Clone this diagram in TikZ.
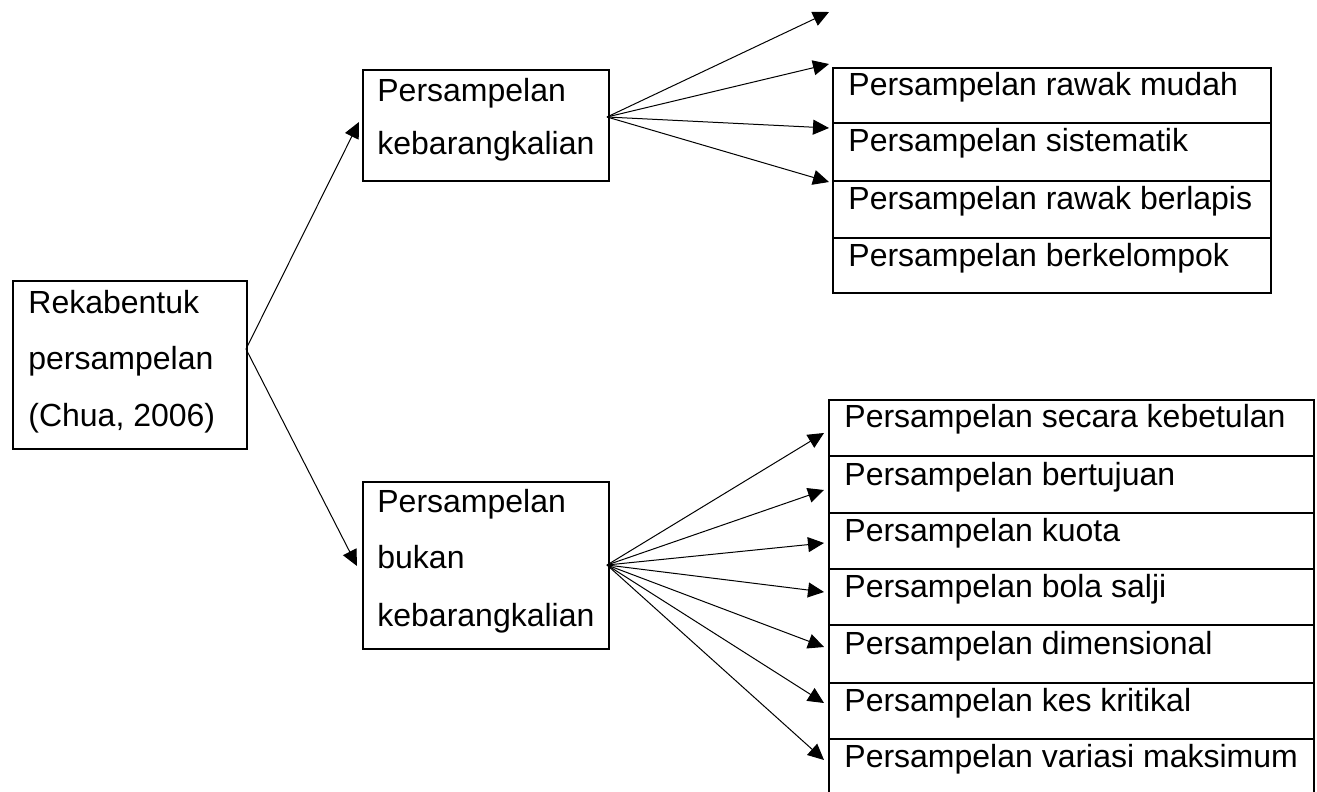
\documentclass[tikz,border=0pt]{standalone}
\usepackage{fontspec}
\setmainfont{Liberation Sans}
\usetikzlibrary{arrows.meta}
\begin{document}
\begin{tikzpicture}[x=0.5pt,y=-0.5pt,
  box/.style={draw=black,line width=1pt,inner sep=0pt,anchor=north west},
  txt/.style={anchor=base west,inner sep=0pt,font=\fontsize{16pt}{19pt}\selectfont},
  arr/.style={line width=0.5pt,-{Triangle[length=8pt,width=7.5pt]}}]
\useasboundingbox (0,0) rectangle (1317,792);
% left box
\node[box,minimum width=117pt,minimum height=84pt] (root) at (12,280) {};
\node[txt] (r1) at (28,313) {Rekabentuk};
\node[txt] (r2) at (28,369) {persampelan};
\node[txt] (r3) at (28,426) {(Chua, 2006)};
% top middle
\node[box,minimum width=123pt,minimum height=55.5pt] (pk) at (362,69) {};
\node[txt] (pk1) at (377,102) {Persampelan};
\node[txt] (pk2) at (377,155) {kebarangkalian};
% bottom middle
\node[box,minimum width=123pt,minimum height=83.5pt] (pb) at (362,481) {};
\node[txt] (pb1) at (377,512) {Persampelan};
\node[txt] (pb2) at (377,568) {bukan};
\node[txt] (pb3) at (377,626) {kebarangkalian};
% right top rows
\node[box,minimum width=219pt,minimum height=27.5pt] (a1) at (832,67) {};
\node[box,minimum width=219pt,minimum height=29pt] (a2) at (832,122) {};
\node[box,minimum width=219pt,minimum height=28.5pt] (a3) at (832,180) {};
\node[box,minimum width=219pt,minimum height=27.5pt] (a4) at (832,237) {};
\node[txt] (at1) at (848,96) {Persampelan rawak mudah};
\node[txt] (at2) at (848,152) {Persampelan sistematik};
\node[txt] (at3) at (848,209) {Persampelan rawak berlapis};
\node[txt] (at4) at (848,266) {Persampelan berkelompok};
% right bottom rows
\node[box,minimum width=242.5pt,minimum height=28pt] (b1) at (828,399) {};
\node[box,minimum width=242.5pt,minimum height=28.5pt] (b2) at (828,455) {};
\node[box,minimum width=242.5pt,minimum height=28pt] (b3) at (828,512) {};
\node[box,minimum width=242.5pt,minimum height=28pt] (b4) at (828,568) {};
\node[box,minimum width=242.5pt,minimum height=29pt] (b5) at (828,624) {};
\node[box,minimum width=242.5pt,minimum height=28pt] (b6) at (828,682) {};
\node[box,minimum width=242.5pt,minimum height=30pt] (b7) at (828,738) {};
\node[txt] (bt1) at (844,427) {Persampelan secara kebetulan};
\node[txt] (bt2) at (844,485) {Persampelan bertujuan};
\node[txt] (bt3) at (844,541) {Persampelan kuota};
\node[txt] (bt4) at (844,597) {Persampelan bola salji};
\node[txt] (bt5) at (844,654) {Persampelan dimensional};
\node[txt] (bt6) at (844,711) {Persampelan kes kritikal};
\node[txt] (bt7) at (844,767) {Persampelan variasi maksimum};
% connector points
\coordinate (rs) at (246,349);
\coordinate (pkin) at (359,122);
\coordinate (pbin) at (357,566);
\coordinate (ps) at (607,117);
\coordinate (qs) at (607,565);
\coordinate (e0) at (829,12);
\coordinate (e1) at (829,64);
\coordinate (e2) at (829,128);
\coordinate (e3) at (829,182);
\coordinate (f1) at (824,433);
\coordinate (f2) at (824,490);
\coordinate (f3) at (824,543);
\coordinate (f4) at (824,592);
\coordinate (f5) at (824,647);
\coordinate (f6) at (824,703);
\coordinate (f7) at (824,760);
\draw[arr] (rs) -- (pkin);
\draw[arr] (rs) -- (pbin);
\foreach \e in {e0,e1,e2,e3} \draw[arr] (ps) -- (\e);
\foreach \f in {f1,f2,f3,f4,f5,f6,f7} \draw[arr] (qs) -- (\f);
\end{tikzpicture}
\end{document}
